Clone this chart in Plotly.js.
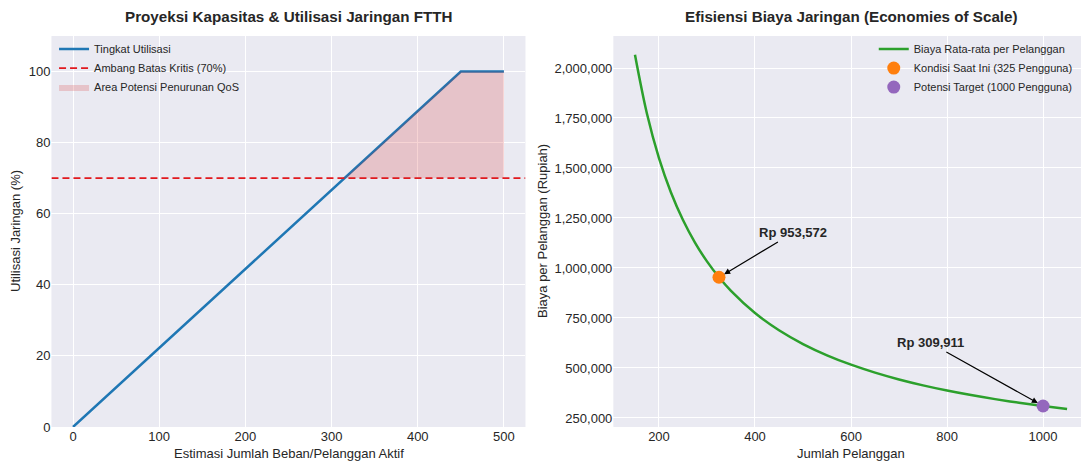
<!DOCTYPE html>
<html><head><meta charset="utf-8">
<script src="https://cdn.plot.ly/plotly-3.0.1.min.js"></script>
<style>html,body{margin:0;padding:0;background:#fff}#chart{width:1081px;height:461px}</style>
</head><body><div id="chart"></div>
<script>
// ---- Left chart data ----
const bebanAktif = [0, 50, 100, 150, 200, 250, 300, 350, 400, 450, 500];
const utilisasi = [0, 11.1, 22.2, 33.3, 44.4, 55.6, 66.7, 77.8, 88.9, 100, 100];
const ambangBatas = 70;
const areaX = [315, 350, 400, 450, 500];
const areaY = [70, 77.8, 88.9, 100, 100];

// ---- Right chart data ----
const jumlahPelanggan = [150, 175, 200, 225, 250, 275, 300, 325, 350, 400, 450, 500, 550, 600, 650, 700, 750, 800, 850, 900, 950, 1000, 1050];
const biayaRata = [2066000, 1771000, 1549500, 1377400, 1239600, 1127000, 1033000, 953572, 885500, 774800, 688700, 619800, 563500, 516500, 476800, 442700, 413200, 387400, 364600, 344300, 326200, 309911, 295150];
const kondisiSaatIni = {x: 325, y: 953572};
const potensiTarget = {x: 1000, y: 309911};

const FONT = 'Liberation Sans, Arial, sans-serif';
const TXT = '#262626';

const polyX = areaX.concat([areaX[areaX.length-1], areaX[0]]);
const polyY = areaY.concat([ambangBatas, ambangBatas]);

const traces = [
  {x: bebanAktif, y: utilisasi, type: 'scatter', mode: 'lines', name: 'Tingkat Utilisasi',
   line: {color: '#1f77b4', width: 2.5}, xaxis: 'x', yaxis: 'y', legend: 'legend'},
  {x: [-25, 525], y: [ambangBatas, ambangBatas], type: 'scatter', mode: 'lines', name: 'Ambang Batas Kritis (70%)',
   line: {color: 'rgb(225,25,30)', width: 1.6, dash: '7px,4px'}, xaxis: 'x', yaxis: 'y', legend: 'legend'},
  {x: polyX, y: polyY, type: 'scatter', mode: 'lines', fill: 'toself', name: 'Area Potensi Penurunan QoS',
   fillcolor: 'rgba(214,39,40,0.2)', line: {width: 0, color: 'rgba(214,39,40,0)'}, xaxis: 'x', yaxis: 'y', legend: 'legend'},
  {x: jumlahPelanggan, y: biayaRata, type: 'scatter', mode: 'lines', name: 'Biaya Rata-rata per Pelanggan',
   line: {color: '#2ca02c', width: 2.5, shape: 'spline'}, xaxis: 'x2', yaxis: 'y2', legend: 'legend2'},
  {x: [kondisiSaatIni.x], y: [kondisiSaatIni.y], type: 'scatter', mode: 'markers', name: 'Kondisi Saat Ini (325 Pengguna)',
   marker: {color: '#ff7f0e', size: 13}, xaxis: 'x2', yaxis: 'y2', legend: 'legend2'},
  {x: [potensiTarget.x], y: [potensiTarget.y], type: 'scatter', mode: 'markers', name: 'Potensi Target (1000 Pengguna)',
   marker: {color: '#9467bd', size: 13}, xaxis: 'x2', yaxis: 'y2', legend: 'legend2'}
];

const axisCommon = {
  showgrid: true, gridcolor: '#ffffff', gridwidth: 1, zeroline: false, showline: false,
  ticks: '', tickfont: {family: FONT, size: 13, color: TXT}
};

const layout = {
  width: 1081, height: 461,
  margin: {l: 0, r: 0, t: 0, b: 0},
  paper_bgcolor: '#ffffff', plot_bgcolor: '#eaeaf2',
  font: {family: FONT, color: TXT},
  xaxis: Object.assign({}, axisCommon, {domain: [0.0476, 0.4861], range: [-25, 525], tickvals: [0,100,200,300,400,500], anchor: 'y'}),
  yaxis: Object.assign({}, axisCommon, {domain: [0.0738, 0.9219], range: [0, 110], tickvals: [0,20,40,60,80,100], anchor: 'x'}),
  xaxis2: Object.assign({}, axisCommon, {domain: [0.5674, 1], range: [105, 1079], tickvals: [200,400,600,800,1000], anchor: 'y2'}),
  yaxis2: Object.assign({}, axisCommon, {domain: [0.0738, 0.9219], range: [205000, 2160000],
    tickvals: [250000,500000,750000,1000000,1250000,1500000,1750000,2000000], tickformat: ',d', anchor: 'x2'}),
  showlegend: true,
  legend: {x: 0.05, y: 0.925, xanchor: 'left', yanchor: 'top', bgcolor: 'rgba(0,0,0,0)',
    font: {family: FONT, size: 11, color: TXT}, itemwidth: 30, tracegroupgap: 0},
  legend2: {x: 0.997, y: 0.925, xanchor: 'right', yanchor: 'top', bgcolor: 'rgba(0,0,0,0)',
    font: {family: FONT, size: 11, color: TXT}, itemwidth: 30, tracegroupgap: 0},
  annotations: [
    {text: '<b>Proyeksi Kapasitas &amp; Utilisasi Jaringan FTTH</b>', xref: 'paper', yref: 'paper', x: 0.2669, y: 1 - 16/461,
     xanchor: 'center', yanchor: 'middle', showarrow: false, font: {family: FONT, size: 15.2, color: TXT}},
    {text: '<b>Efisiensi Biaya Jaringan (Economies of Scale)</b>', xref: 'paper', yref: 'paper', x: 851/1081, y: 1 - 16/461,
     xanchor: 'center', yanchor: 'middle', showarrow: false, font: {family: FONT, size: 15.2, color: TXT}},
    {text: 'Estimasi Jumlah Beban/Pelanggan Aktif', xref: 'paper', yref: 'paper', x: 288.5/1081, y: 1 - 453/461,
     xanchor: 'center', yanchor: 'middle', showarrow: false, font: {family: FONT, size: 13, color: TXT}},
    {text: 'Utilisasi Jaringan (%)', xref: 'paper', yref: 'paper', x: 15/1081, y: 1 - 231/461, textangle: -90,
     xanchor: 'center', yanchor: 'middle', showarrow: false, font: {family: FONT, size: 13, color: TXT}},
    {text: 'Jumlah Pelanggan', xref: 'paper', yref: 'paper', x: 851/1081, y: 1 - 453/461,
     xanchor: 'center', yanchor: 'middle', showarrow: false, font: {family: FONT, size: 13, color: TXT}},
    {text: 'Biaya per Pelanggan (Rupiah)', xref: 'paper', yref: 'paper', x: 542/1081, y: 1 - 231/461, textangle: -90,
     xanchor: 'center', yanchor: 'middle', showarrow: false, font: {family: FONT, size: 13, color: TXT}},
    {text: '<b>Rp 953,572</b>', xref: 'x2', yref: 'y2', x: kondisiSaatIni.x, y: kondisiSaatIni.y,
     axref: 'x2', ayref: 'y2', ax: 479, ay: 1175000, showarrow: true, arrowhead: 2, arrowsize: 1, arrowwidth: 1.2,
     arrowcolor: '#000', standoff: 6, font: {family: FONT, size: 13, color: TXT}},
    {text: '<b>Rp 309,911</b>', xref: 'x2', yref: 'y2', x: potensiTarget.x, y: potensiTarget.y,
     axref: 'x2', ayref: 'y2', ax: 765, ay: 625000, showarrow: true, arrowhead: 2, arrowsize: 1, arrowwidth: 1.2,
     arrowcolor: '#000', standoff: 6, font: {family: FONT, size: 13, color: TXT}}
  ]
};

Plotly.newPlot('chart', traces, layout, {displayModeBar: false, staticPlot: true});
</script></body></html>
